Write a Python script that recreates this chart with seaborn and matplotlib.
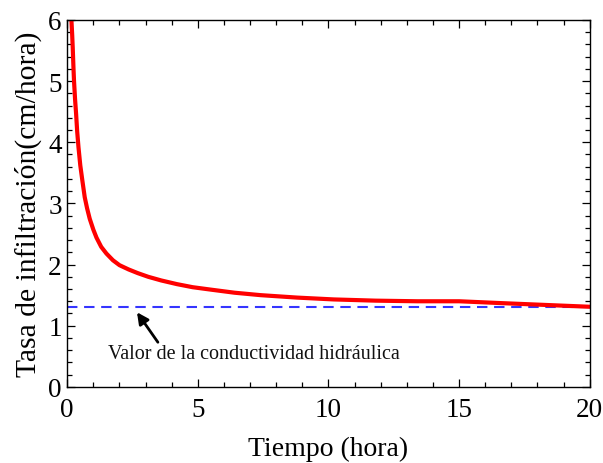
import matplotlib
matplotlib.use("Agg")
import matplotlib.pyplot as plt
from matplotlib.ticker import MultipleLocator
import seaborn as sns
import pandas as pd

# Data
tiempo = [0.16, 0.19, 0.21, 0.24, 0.26, 0.30, 0.34, 0.38, 0.43, 0.50, 0.58,
          0.67, 0.76, 0.86, 1.00, 1.12, 1.30, 1.50, 1.75, 2.00, 2.35, 2.70,
          3.10, 3.60, 4.20, 4.80, 5.50, 6.40, 7.40, 8.80, 10.2, 11.8, 13.4,
          15.0, 16.6, 18.3, 20.0]
tasa = [6.00, 5.75, 5.55, 5.20, 5.00, 4.70, 4.46, 4.18, 3.92, 3.62, 3.37,
        3.10, 2.92, 2.75, 2.57, 2.44, 2.29, 2.18, 2.07, 1.99, 1.92, 1.86,
        1.80, 1.74, 1.68, 1.63, 1.59, 1.54, 1.50, 1.46, 1.43, 1.41, 1.40,
        1.40, 1.37, 1.34, 1.31]
conductividad = 1.31

xlabel = "Tiempo (hora)"
ylabel = "Tasa de infiltración(cm/hora)"
nota = "Valor de la conductividad hidráulica"
nota_xy = (7.15, 0.54)
flecha_punta = (2.67, 1.22)
flecha_cola = (3.47, 0.73)

sns.set_theme(style="ticks")
plt.rcParams["font.family"] = ["Liberation Serif", "DejaVu Serif"]
plt.rcParams["text.color"] = "black"
plt.rcParams["axes.labelcolor"] = "black"
plt.rcParams["xtick.color"] = "black"
plt.rcParams["ytick.color"] = "black"

fig = plt.figure(figsize=(6.03, 4.64), dpi=100)
ax = fig.add_axes([0.1115, 0.164, 0.8665, 0.791])

df = pd.DataFrame({"t": tiempo, "f": tasa})
sns.lineplot(data=df, x="t", y="f", ax=ax, color="#ff0000", linewidth=3.0,
             sort=False, estimator=None)
ax.axhline(conductividad, color="#3535ff", linewidth=1.5, linestyle=(0, (5, 3.2)),
           zorder=1)

ax.text(nota_xy[0], nota_xy[1], nota, ha="center", va="center",
        fontsize=14.5, color="#111111")
ax.annotate("", xy=flecha_punta, xytext=flecha_cola,
            arrowprops=dict(arrowstyle="-|>", color="black", lw=2.0,
                            mutation_scale=17, shrinkA=0, shrinkB=0))

ax.set_xlim(0, 20)
ax.set_ylim(0, 6)
ax.xaxis.set_major_locator(MultipleLocator(5))
ax.xaxis.set_minor_locator(MultipleLocator(1))
ax.yaxis.set_major_locator(MultipleLocator(1))
ax.yaxis.set_minor_locator(MultipleLocator(0.2))
ax.tick_params(which="both", direction="in", top=True, right=True,
               color="black", labelcolor="black", width=0.9)
ax.tick_params(which="major", length=6, labelsize=19.5)
ax.tick_params(which="minor", length=3.5)
ax.tick_params(axis="x", which="major", pad=7)
ax.tick_params(axis="y", which="major", pad=4)
for s in ax.spines.values():
    s.set_color("black")
    s.set_linewidth(1.0)

ax.set_xlabel(xlabel, fontsize=20, labelpad=10, color="black")
ax.set_ylabel(ylabel, fontsize=21.3, labelpad=4, color="black")

fig.savefig("out.png", dpi=100)
